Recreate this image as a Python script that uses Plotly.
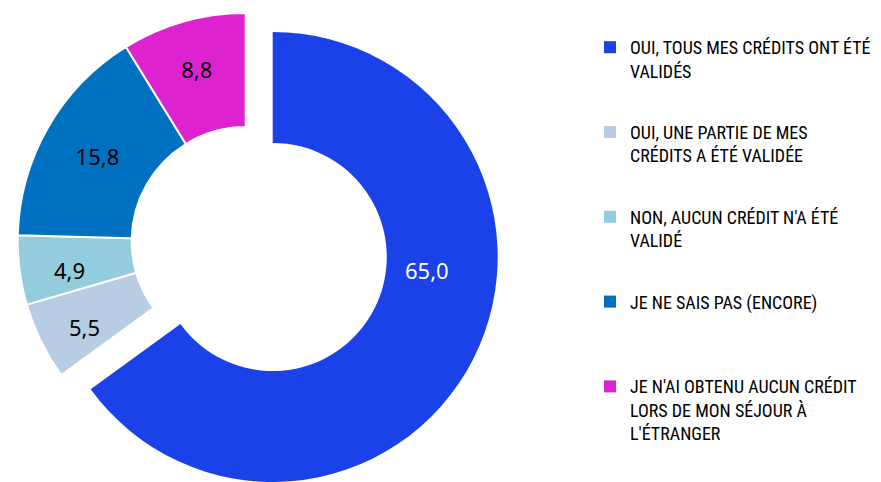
import plotly.graph_objects as go

labels = [
    "OUI, TOUS MES CRÉDITS ONT ÉTÉ<br>VALIDÉS",
    "OUI, UNE PARTIE DE MES<br>CRÉDITS A ÉTÉ VALIDÉE",
    "NON, AUCUN CRÉDIT N'A ÉTÉ<br>VALIDÉ",
    "JE NE SAIS PAS (ENCORE)<br> ",
    "JE N'AI OBTENU AUCUN CRÉDIT<br>LORS DE MON SÉJOUR À<br>L'ÉTRANGER",
]
values = [65.0, 5.5, 4.9, 15.8, 8.8]
colors = ["#1B42E8", "#B8CCE4", "#93CDDD", "#0070C0", "#DF22D0"]

# page has an 8px body margin: work in figure pixels
W, H = 865, 474
fmt = [f"{v:.1f}".replace(".", ",") for v in values]
clear = "rgba(0,0,0,0)"


def dom(cx, cy, r):
    return dict(x=[(cx - r) / W, (cx + r) / W], y=[max(0, (H - cy - r) / H), min(1, (H - cy + r) / H)])


fig = go.Figure()

# legend entries (tiny pies hidden beneath the ring)
for i, (lab, val, col) in enumerate(zip(labels, values, colors)):
    fig.add_trace(go.Pie(
        labels=[lab], values=[val], sort=False,
        marker=dict(colors=[col]), textinfo="none", hoverinfo="skip",
        domain=dom(95, 150, 0.5), showlegend=True, legendgroup=f"g{i}",
    ))

# ring: all slices except the detached one
fig.add_trace(go.Pie(
    labels=labels, values=values, sort=False, direction="clockwise", hole=0.5,
    marker=dict(colors=[clear] + colors[1:],
                line=dict(color="white", width=[0, 2, 2, 2, 2])),
    text=["", "", "", fmt[3], fmt[4]], textinfo="text", textposition="inside",
    insidetextorientation="horizontal",
    textfont=dict(family="Noto Sans", size=22, color="black"),
    domain=dom(237.7, 233, 228),
    showlegend=False, hoverinfo="label+value",
))

# detached slice
fig.add_trace(go.Pie(
    labels=labels, values=values, sort=False, direction="clockwise", hole=0.507,
    marker=dict(colors=[colors[0]] + [clear] * 4, line=dict(width=0)),
    textinfo="none",
    domain=dom(264.7, 249, 225),
    showlegend=False, hoverinfo="label+value",
))

# value labels placed like the reference
label_pos = {0: (419, 262, "white"), 1: (76, 319, "black"), 2: (61.5, 262, "black")}
for idx, (px, py, col) in label_pos.items():
    fig.add_annotation(
        x=px / W, y=1 - py / H, xref="paper", yref="paper",
        xanchor="center", yanchor="middle",
        text=fmt[idx], showarrow=False,
        font=dict(family="Noto Sans", size=22, color=col),
    )

fig.update_layout(
    width=W, height=H,
    margin=dict(l=0, r=0, t=0, b=0, autoexpand=False),
    paper_bgcolor="white", plot_bgcolor="white",
    legend=dict(
        x=582 / W, y=1 - 21 / H, xanchor="left", yanchor="top",
        font=dict(family="Roboto Condensed", size=18, color="black"),
        valign="top", traceorder="grouped", tracegroupgap=35,
    ),
)

fig.write_html("out.html")
